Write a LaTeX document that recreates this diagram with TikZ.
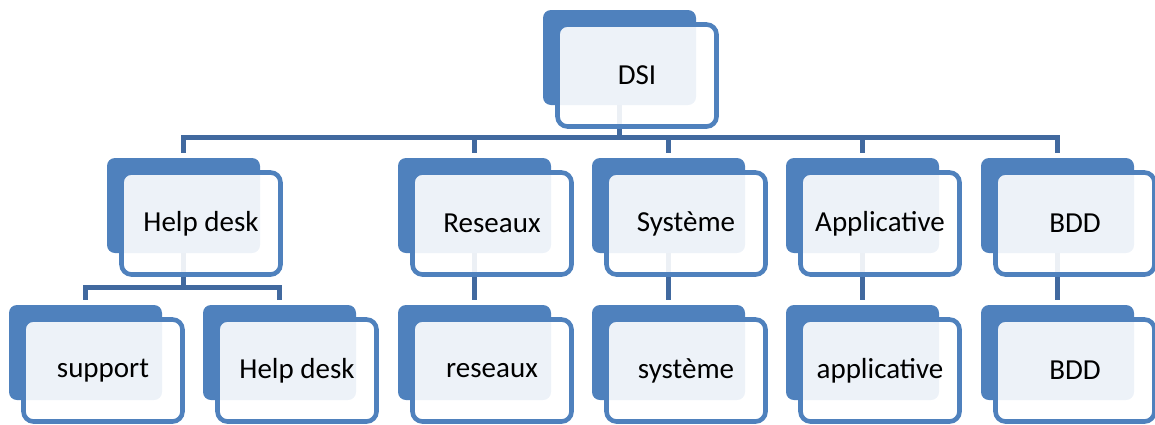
\documentclass[tikz,border=0pt]{standalone}
\usepackage{fontspec}
\setmainfont{Carlito}
\usepackage{xcolor}
\usepackage{tikz}
\definecolor{boxblue}{HTML}{4F81BD}
\definecolor{linkblue}{HTML}{41699F}
\pgfdeclarelayer{bg}
\pgfsetlayers{bg,main}

% name, left, top, text
\newcommand{\orgbox}[4]{%
  \node[back] (#1) at (#2+76.5,#3+47.5) {};
  \node[front] (#1f) at (#2+94,#3+65.5) {#4};
}

\begin{document}
\begin{tikzpicture}[x=0.5pt,y=-0.5pt,
    back/.style={fill=boxblue,rounded corners=4pt,minimum width=76.5pt,minimum height=47.5pt,inner sep=0pt},
    front/.style={draw=boxblue,line width=2.3pt,fill=white,fill opacity=0.9,text opacity=1,rounded corners=5pt,
      minimum width=79.5pt,minimum height=51pt,inner sep=0pt,font=\fontsize{14.5}{16}\selectfont},
    link/.style={draw=linkblue,line width=2.5pt,shorten >=2.5pt}]
    \useasboundingbox (0,0) rectangle (1155,424);
    \orgbox{dsi}{543}{10}{DSI}
    \orgbox{hd}{107}{158}{Help desk}
    \orgbox{res}{398}{158}{Reseaux}
    \orgbox{sys}{592}{158}{Système}
    \orgbox{app}{786}{158}{Applicative}
    \orgbox{bdd}{981}{158}{BDD}
    \orgbox{sup}{9}{305}{support}
    \orgbox{hd2}{203}{305}{Help desk}
    \orgbox{res2}{398}{305}{reseaux}
    \orgbox{sys2}{592}{305}{système}
    \orgbox{app2}{786}{305}{applicative}
    \orgbox{bdd2}{981}{305}{BDD}
    \coordinate (bus1) at (0,137);
    \coordinate (bus2) at (0,287);
    \begin{pgfonlayer}{bg}
        \foreach \n in {hd,res,sys,app,bdd}
            \draw[link] (dsi.center) -- (dsi.center |- bus1) -| (\n.north);
        \draw[link] (hd.center) -- (hd.center |- bus2) -| (sup.north);
        \draw[link] (hd.center) -- (hd.center |- bus2) -| (hd2.north);
        \draw[link] (res.center) -- (res2.north);
        \draw[link] (sys.center) -- (sys2.north);
        \draw[link] (app.center) -- (app2.north);
        \draw[link] (bdd.center) -- (bdd2.north);
    \end{pgfonlayer}
\end{tikzpicture}
\end{document}
